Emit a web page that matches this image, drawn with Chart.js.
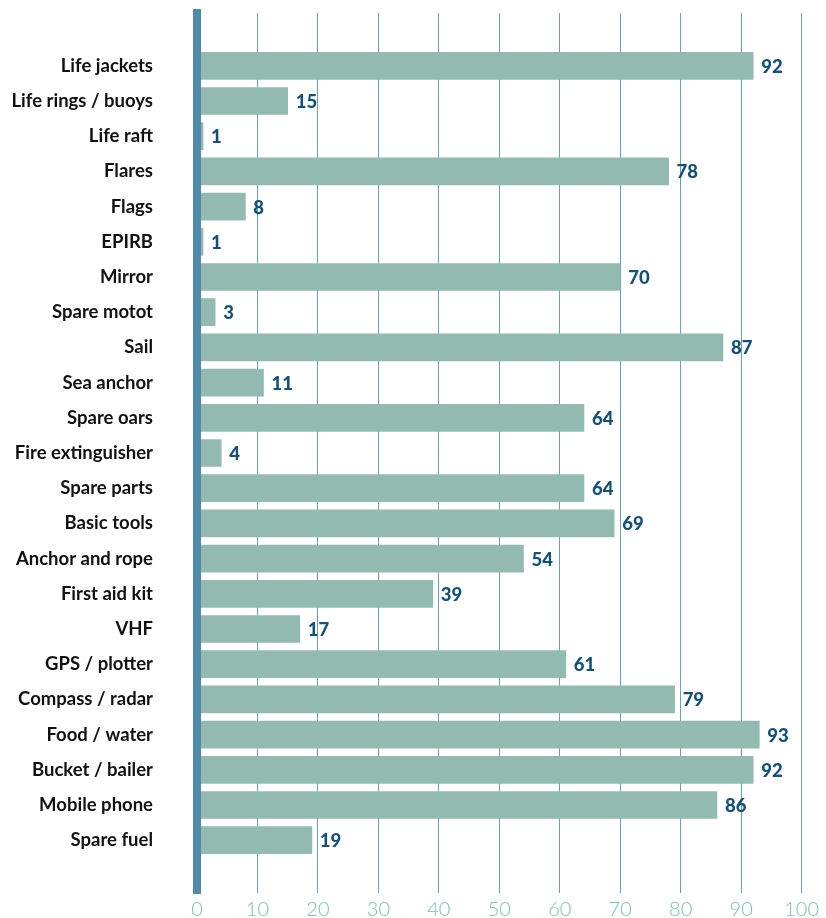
<!DOCTYPE html>
<html>
<head>
<meta charset="utf-8">
<script src="https://cdn.jsdelivr.net/npm/chart.js@4/dist/chart.umd.min.js"></script>
<style>
  html, body { margin: 0; padding: 0; background: #ffffff; overflow: hidden; }
  #wrap { width: 826px; height: 918px; position: relative; }
</style>
</head>
<body>
<div id="wrap"><canvas id="equipChart"></canvas></div>
<script>
// Safety equipment carried on board (%)
const categories = [
  'Life jackets', 'Life rings / buoys', 'Life raft', 'Flares', 'Flags', 'EPIRB',
  'Mirror', 'Spare motot', 'Sail', 'Sea anchor', 'Spare oars', 'Fire extinguisher',
  'Spare parts', 'Basic tools', 'Anchor and rope', 'First aid kit', 'VHF',
  'GPS / plotter', 'Compass / radar', 'Food / water', 'Bucket / bailer',
  'Mobile phone', 'Spare fuel'
];
const shares = [92, 15, 1, 78, 8, 1, 70, 3, 87, 11, 64, 4, 64, 69, 54, 39, 17, 61, 79, 93, 92, 86, 19];
const axisMin = 0;
const axisMax = 100;
const axisStep = 10;

// one empty slot above and below keeps the gridlines running past the first/last bar
const labels = ['', ...categories, ''];
const values = [null, ...shares, null];

// writes the value just right of each bar
const valueLabels = {
  id: 'valueLabels',
  afterDatasetsDraw(chart) {
    const ctx = chart.ctx;
    const meta = chart.getDatasetMeta(0);
    ctx.save();
    ctx.font = '900 18.5px Lato';
    ctx.fillStyle = '#15507a';
    ctx.textAlign = 'left';
    ctx.textBaseline = 'middle';
    meta.data.forEach((bar, i) => {
      if (values[i] == null) return;
      ctx.fillText(String(values[i]), bar.x + 8, bar.y + 1);
    });
    ctx.restore();
  }
};

const ctx = document.getElementById('equipChart').getContext('2d');
new Chart(ctx, {
  type: 'bar',
  data: {
    labels: labels,
    datasets: [{
      data: values,
      backgroundColor: '#93bab1',
      borderWidth: 0,
      barThickness: 27
    }]
  },
  options: {
    indexAxis: 'y',
    responsive: true,
    maintainAspectRatio: false,
    animation: false,
    layout: { padding: { top: 13, right: 24, left: 0, bottom: 0 } },
    plugins: {
      legend: { display: false },
      tooltip: { enabled: false }
    },
    scales: {
      x: {
        min: axisMin,
        max: axisMax,
        grid: { color: '#6a9fb8', lineWidth: 1, drawTicks: false },
        border: { display: false },
        ticks: {
          stepSize: axisStep,
          padding: 7,
          color: '#7cc2b0',
          font: { family: 'Lato', size: 20, weight: '300', lineHeight: 1 }
        },
        afterFit(scale) {
          scale.height = 25;
        }
      },
      y: {
        grid: { display: false, drawTicks: false },
        border: { display: true, color: '#4f8ba8', width: 8, z: 1 },
        ticks: {
          padding: 44,
          color: '#111111',
          font: { family: 'Lato', size: 18.5, weight: 'bold' }
        },
        // fixed label column; tick padding should not shrink the plot vertically
        afterFit(scale) {
          scale.width = 197;
          scale.paddingTop = 0;
          scale.paddingBottom = 0;
        }
      }
    }
  },
  plugins: [valueLabels]
});
</script>
</body>
</html>
